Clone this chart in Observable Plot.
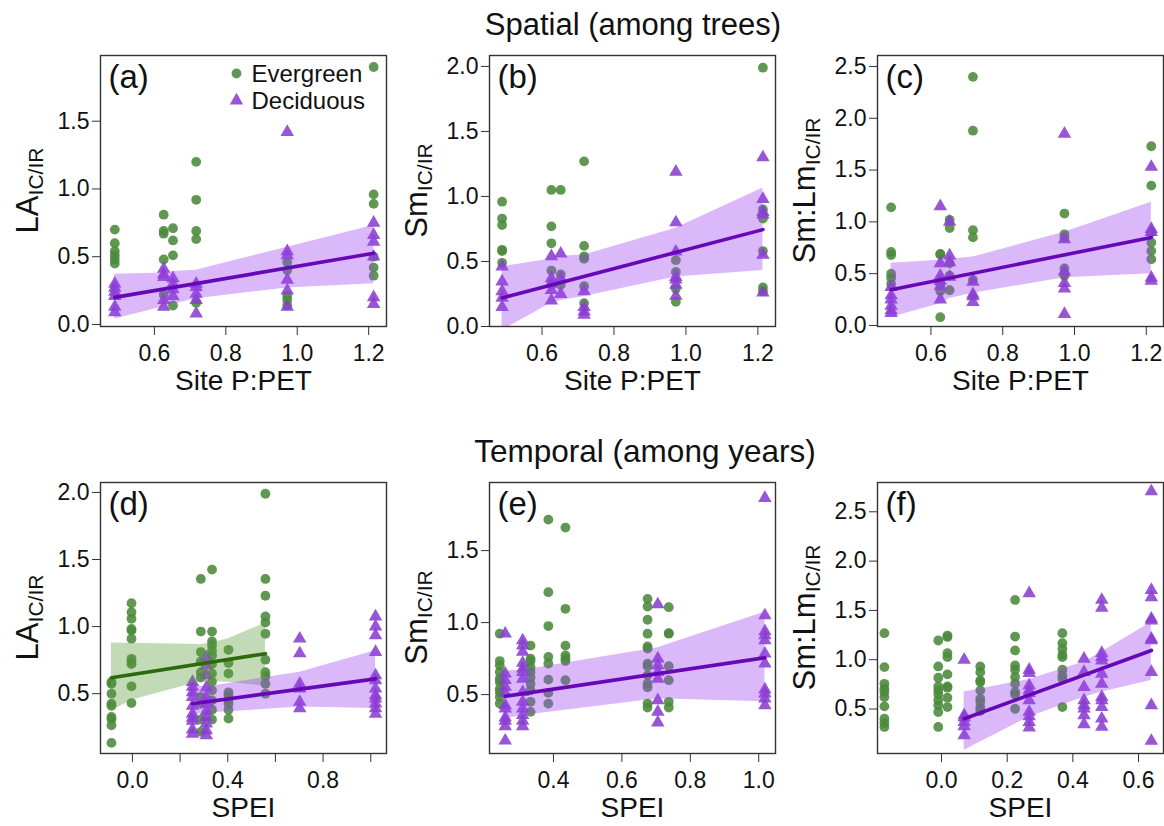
<!DOCTYPE html>
<html><head><meta charset="utf-8">
<script src="https://cdn.jsdelivr.net/npm/d3@7"></script>
<script src="https://cdn.jsdelivr.net/npm/@observablehq/plot@0.6"></script>
<style>
body{margin:0;background:#fff;overflow:hidden;font-family:"Liberation Sans",Arial,sans-serif;}
#root{position:relative;width:1164px;height:826px;}
.title{position:absolute;font-size:31px;color:#111;white-space:nowrap;transform:translateX(-50%);line-height:36px;}
.panel{position:absolute;}
</style></head><body><div id="root">
<div class="title" style="left:633px;top:7px">Spatial (among trees)</div>
<div class="title" style="left:645px;top:433px;font-size:31.5px">Temporal (among years)</div>
</div>
<script>
// ---------- shared ----------
const sitePET = [0.489, 0.626, 0.652, 0.717, 0.972, 1.214];
const siteLineX = [0.489, 1.214];
const topXTicks = [0.6, 0.8, 1.0, 1.2];
const legendLabels = ["Evergreen", "Deciduous"];
const subLabel = "IC/IR";

// ---------- (a) ----------
const aEverY = [
 [0.70,0.60,0.54,0.51,0.48,0.45],
 [0.81,0.69,0.67,0.48,0.22],
 [0.71,0.62,0.51,0.14],
 [1.20,0.92,0.69,0.63,0.16],
 [0.46,0.40,0.21,0.18,0.14],
 [1.90,0.96,0.89,0.50,0.42,0.36]];
const aDecidY = [
 [0.30,0.27,0.24,0.21,0.13,0.09],
 [0.41,0.37,0.35,0.18,0.13],
 [0.34,0.30,0.26,0.21],
 [0.30,0.275,0.225,0.18,0.08],
 [1.42,0.54,0.51,0.33,0.25,0.13],
 [0.75,0.66,0.61,0.50,0.20,0.15]];
const aBandLo = [0.04,0.13,0.15,0.19,0.27,0.30];
const aBandHi = [0.37,0.38,0.39,0.40,0.57,0.73];
const aLineY = [0.20, 0.525];
const aYTicks = [0, 0.5, 1.0, 1.5];

// ---------- (b) ----------
const bEverY = [
 [0.96,0.83,0.78,0.59,0.58,0.49],
 [1.05,0.77,0.64,0.43,0.32],
 [1.05,0.40,0.32],
 [1.27,0.62,0.54,0.52,0.31,0.18],
 [0.51,0.42,0.29,0.19],
 [1.99,0.90,0.83,0.58,0.30,0.27]];
const bDecidY = [
 [0.46,0.345,0.27,0.22,0.15],
 [0.54,0.37,0.33,0.28,0.20],
 [0.56,0.37,0.25],
 [0.27,0.15,0.115,0.09],
 [1.19,0.80,0.575,0.38,0.36,0.32,0.235],
 [1.30,0.98,0.88,0.86,0.55,0.26]];
const bBandLo = [-0.03,0.18,0.20,0.23,0.38,0.43];
const bBandHi = [0.46,0.52,0.54,0.55,0.755,1.065];
const bLineY = [0.22, 0.745];
const bYTicks = [0, 0.5, 1.0, 1.5, 2.0];

// ---------- (c) ----------
const cEverY = [
 [1.14,0.71,0.68,0.50,0.46,0.40],
 [0.69,0.685,0.39,0.33,0.08],
 [1.02,0.94,0.60,0.48,0.34],
 [2.40,1.88,0.92,0.85,0.44],
 [1.08,0.88,0.85,0.55,0.50,0.48],
 [1.73,1.35,0.90,0.80,0.72,0.64]];
const cDecidY = [
 [0.37,0.29,0.25,0.19,0.145,0.12],
 [1.15,0.60,0.48,0.43,0.38,0.25],
 [1.00,0.675,0.61,0.47],
 [0.42,0.30,0.28,0.225],
 [1.85,0.83,0.52,0.41,0.355,0.11],
 [1.53,0.93,0.90,0.46,0.43]];
const cBandLo = [0.08,0.21,0.26,0.31,0.46,0.50];
const cBandHi = [0.60,0.63,0.64,0.66,0.90,1.19];
const cLineY = [0.345, 0.85];
const cYTicks = [0, 0.5, 1.0, 1.5, 2.0, 2.5];

// ---------- (d) ----------
const dEverX = [-0.088,-0.004,0.287,0.334,0.403,0.558];
const dEverY = [
 [0.587,0.574,0.50,0.426,0.41,0.326,0.31,0.264,0.133],
 [1.174,1.107,1.058,0.983,0.97,0.91,0.76,0.74,0.72,0.555,0.43],
 [1.355,0.963,0.81,0.74,0.66,0.62,0.475,0.425,0.307,0.215],
 [1.425,0.963,0.89,0.86,0.82,0.785,0.72,0.65,0.59,0.525,0.45,0.38,0.307],
 [0.827,0.728,0.65,0.51,0.488,0.455,0.425,0.38,0.314],
 [1.99,1.355,1.23,1.075,1.03,0.946,0.753,0.66,0.63,0.574,0.50]];
const dDecidX = [0.252,0.31,0.702,1.02];
const dDecidY = [
 [0.587,0.55,0.51,0.475,0.41,0.35,0.32,0.297,0.232,0.20],
 [0.77,0.71,0.636,0.545,0.475,0.425,0.37,0.326,0.277,0.227,0.19],
 [0.91,0.80,0.574,0.537,0.438,0.39],
 [1.075,1.0,0.934,0.81,0.636,0.60,0.537,0.488,0.463,0.425,0.39,0.35]];
const dEverBandLo = [0.37,0.45,0.59,0.59,0.585,0.555];
const dEverBandHi = [0.877,0.875,0.867,0.88,0.91,1.026];
const dEverLineX = [-0.088, 0.558];
const dEverLineY = [0.619, 0.798];
const dDecidBandLo = [0.34,0.355,0.40,0.39];
const dDecidBandHi = [0.56,0.55,0.66,0.82];
const dDecidLineX = [0.252, 1.02];
const dDecidLineY = [0.425, 0.61];
const dXTicks = [0, 0.2, 0.4, 0.6, 0.8, 1.0];
const dXLabels = [0, 0.4, 0.8];
const dYTicks = [0.5, 1.0, 1.5, 2.0];

// ---------- (e) ----------
const eEverX = [0.243,0.333,0.385,0.435,0.675,0.737];
const eEverY = [
 [0.923,0.733,0.703,0.657,0.61,0.588,0.54,0.518,0.484,0.438],
 [0.84,0.75,0.733,0.69,0.657,0.618,0.576,0.53,0.45,0.38],
 [1.715,1.211,0.976,0.761,0.715,0.604,0.512,0.438],
 [1.66,1.096,0.84,0.772,0.75,0.733,0.60],
 [1.165,1.112,1.02,0.923,0.835,0.82,0.715,0.697,0.634,0.576,0.55,0.438,0.41],
 [1.107,0.927,0.923,0.697,0.60,0.45,0.41]];
const eDecidX = [0.259,0.31,0.705,1.018];
const eDecidY = [
 [0.923,0.645,0.60,0.553,0.512,0.426,0.403,0.34,0.318,0.28,0.18],
 [0.876,0.84,0.796,0.72,0.68,0.657,0.61,0.518,0.45,0.403,0.357,0.318,0.28],
 [1.126,0.75,0.703,0.657,0.61,0.46,0.38,0.306],
 [1.865,1.05,0.939,0.911,0.876,0.784,0.715,0.535,0.507,0.472,0.426]];
const eBandLo = [0.334,0.355,0.472,0.45];
const eBandHi = [0.664,0.67,0.826,1.073];
const eLineX = [0.259, 1.018];
const eLineY = [0.488, 0.756];
const eXTicks = [0.4, 0.6, 0.8, 1.0];
const eYTicks = [0.5, 1.0, 1.5];

// ---------- (f) ----------
const fEverX = [-0.174,-0.010,0.018,0.118,0.224,0.368];
const fEverY = [
 [1.269,0.925,0.756,0.706,0.672,0.621,0.527,0.402,0.358,0.318],
 [1.195,0.932,0.817,0.73,0.689,0.648,0.588,0.537,0.47,0.318],
 [1.245,1.229,1.067,1.026,0.851,0.73,0.716,0.615,0.52],
 [0.932,0.874,0.79,0.773,0.689,0.605,0.571,0.513,0.48],
 [1.606,1.235,1.094,0.942,0.898,0.824,0.756,0.672,0.648,0.503],
 [1.269,1.168,1.11,1.05,1.026,0.898,0.84,0.807,0.52]];
const fDecidX = [0.069,0.267,0.434,0.488,0.639];
const fDecidY = [
 [0.999,0.436,0.412,0.368,0.325,0.234],
 [1.674,0.898,0.864,0.739,0.689,0.662,0.588,0.47,0.426,0.368,0.311],
 [1.009,0.874,0.723,0.588,0.537,0.503,0.436,0.345],
 [1.606,1.525,1.067,1.026,0.992,0.857,0.756,0.621,0.588,0.52,0.402,0.318],
 [2.706,1.707,1.633,1.414,1.397,1.212,1.195,0.874,0.537,0.176]];
const fBandLo = [0.082,0.42,0.62,0.672,0.79];
const fBandHi = [0.672,0.80,0.976,1.077,1.38];
const fLineX = [0.069, 0.639];
const fLineY = [0.402, 1.094];
const fXTicks = [0, 0.2, 0.4, 0.6];
const fYTicks = [0.5, 1.0, 1.5, 2.0, 2.5];

// ---------- styles ----------
const GREEN = "#4a8a3b", PURPLE = "#8a3dd0";
const GREEN_LINE = "#2d6a0d", PURPLE_LINE = "#6608b8";
const GREEN_BAND = "#5e9e3e", PURPLE_BAND = "#9d45ee";

function toRows(xs, ys){ const r=[]; xs.forEach((x,i)=>ys[i].forEach(y=>r.push({x,y}))); return r; }
function bandRows(xs, lo, hi){ return xs.map((x,i)=>({x, lo:lo[i], hi:hi[i]})); }
function lineRows(xs, ys){ return xs.map((x,i)=>({x, y:ys[i]})); }
const f1 = d3.format(".1f");

function panel(p){
  const mL=100, mR=1, mT=5, mB=85, fw=286, fh=271;
  const marks = [
    Plot.dot(toRows(p.everX, p.everY), {x:"x", y:"y", r:4.9, fill:GREEN, fillOpacity:0.88, symbol:"circle"}),
    Plot.dot(toRows(p.decidX, p.decidY), {x:"x", y:"y", r:5.0, fill:PURPLE, fillOpacity:0.88, symbol:"triangle"})
  ];
  for (const b of p.bands) {
    marks.push(Plot.areaY(bandRows(b.x, b.lo, b.hi), {x:"x", y1:"lo", y2:"hi", fill:b.fill, fillOpacity:0.38, clip:true}));
  }
  for (const l of p.lines) {
    marks.push(Plot.line(lineRows(l.x, l.y), {x:"x", y:"y", stroke:l.stroke, strokeWidth:3.6, clip:true}));
  }
  marks.push(
    Plot.frame({stroke:"#333", strokeWidth:1.4}),
    Plot.axisX({ticks:p.xTicks, tickFormat:p.xFormat || f1, tickSize:9, tickPadding:9, fontSize:23, label:null, stroke:"#333"}),
    Plot.axisY({ticks:p.yTicks, tickFormat:f1, tickSize:8, tickPadding:3, fontSize:23, label:null, stroke:"#333"}),
    Plot.text([p.letter], {text:d=>d, frameAnchor:"top-left", dx:8, dy:9, fontSize:33, textAnchor:"start", fill:"#111"}),
    Plot.text([p.xTitle], {text:d=>d, frameAnchor:"bottom", dy:63, fontSize:28, fill:"#111"})
  );
  if (p.legend) {
    marks.push(
      Plot.dot([0], {frameAnchor:"top-left", dx:136, dy:18, r:4.9, fill:GREEN, fillOpacity:0.88, symbol:"circle"}),
      Plot.dot([0], {frameAnchor:"top-left", dx:136, dy:45, r:5.0, fill:PURPLE, fillOpacity:0.88, symbol:"triangle"}),
      Plot.text([legendLabels[0]], {text:d=>d, frameAnchor:"top-left", dx:151, dy:9, fontSize:24, textAnchor:"start", fill:"#111"}),
      Plot.text([legendLabels[1]], {text:d=>d, frameAnchor:"top-left", dx:151, dy:36, fontSize:24, textAnchor:"start", fill:"#111"})
    );
  }
  const svg = Plot.plot({
    width: mL+fw+mR, height: mT+fh+mB,
    marginLeft:mL, marginRight:mR, marginTop:mT, marginBottom:mB,
    x:{domain:p.xDomain}, y:{domain:p.yDomain},
    style:{fontFamily:'"Liberation Sans", Arial, sans-serif', color:"#111", background:"transparent", overflow:"visible"},
    marks
  });
  const t = d3.select(svg).append("text")
    .attr("transform", `translate(${mL-62},${mT+fh/2}) rotate(-90)`)
    .attr("text-anchor","middle").attr("font-size",31).attr("fill","#111");
  t.append("tspan").text(p.yMain);
  t.append("tspan").attr("font-size",21).attr("dy",5).text(subLabel);
  const div = document.createElement("div");
  div.className = "panel";
  div.style.left = (p.frameLeft - mL) + "px";
  div.style.top = (p.frameTop - mT) + "px";
  div.appendChild(svg);
  document.getElementById("root").appendChild(div);
}

const topCommon = {everX:sitePET, decidX:sitePET, xTicks:topXTicks, xTitle:"Site P:PET"};
panel({...topCommon, letter:"(a)", legend:true, yMain:"LA", everY:aEverY, decidY:aDecidY,
  bands:[{x:sitePET, lo:aBandLo, hi:aBandHi, fill:PURPLE_BAND}],
  lines:[{x:siteLineX, y:aLineY, stroke:PURPLE_LINE}],
  xDomain:[0.449,1.25], yDomain:[-0.015,1.985], yTicks:aYTicks, frameLeft:100, frameTop:55});
panel({...topCommon, letter:"(b)", yMain:"Sm", everY:bEverY, decidY:bDecidY,
  bands:[{x:sitePET, lo:bBandLo, hi:bBandHi, fill:PURPLE_BAND}],
  lines:[{x:siteLineX, y:bLineY, stroke:PURPLE_LINE}],
  xDomain:[0.454,1.249], yDomain:[0.0,2.084], yTicks:bYTicks, frameLeft:489, frameTop:55});
panel({...topCommon, letter:"(c)", yMain:"Sm:Lm", everY:cEverY, decidY:cDecidY,
  bands:[{x:sitePET, lo:cBandLo, hi:cBandHi, fill:PURPLE_BAND}],
  lines:[{x:siteLineX, y:cLineY, stroke:PURPLE_LINE}],
  xDomain:[0.451,1.248], yDomain:[-0.01,2.606], yTicks:cYTicks, frameLeft:877, frameTop:55});
panel({letter:"(d)", yMain:"LA", xTitle:"SPEI", everX:dEverX, everY:dEverY, decidX:dDecidX, decidY:dDecidY,
  bands:[{x:dEverX, lo:dEverBandLo, hi:dEverBandHi, fill:GREEN_BAND},{x:dDecidX, lo:dDecidBandLo, hi:dDecidBandHi, fill:PURPLE_BAND}],
  lines:[{x:dEverLineX, y:dEverLineY, stroke:GREEN_LINE},{x:dDecidLineX, y:dDecidLineY, stroke:PURPLE_LINE}],
  xTicks:dXTicks, xFormat:d => dXLabels.includes(d) ? f1(d) : "",
  xDomain:[-0.134,1.066], yDomain:[0.054,2.074], yTicks:dYTicks, frameLeft:100, frameTop:482});
panel({letter:"(e)", yMain:"Sm", xTitle:"SPEI", everX:eEverX, everY:eEverY, decidX:eDecidX, decidY:eDecidY,
  bands:[{x:eDecidX, lo:eBandLo, hi:eBandHi, fill:PURPLE_BAND}],
  lines:[{x:eLineX, y:eLineY, stroke:PURPLE_LINE}],
  xTicks:eXTicks, xDomain:[0.213,1.049], yDomain:[0.091,1.973], yTicks:eYTicks, frameLeft:489, frameTop:482});
panel({letter:"(f)", yMain:"Sm:Lm", xTitle:"SPEI", everX:fEverX, everY:fEverY, decidX:fDecidX, decidY:fDecidY,
  bands:[{x:fDecidX, lo:fBandLo, hi:fBandHi, fill:PURPLE_BAND}],
  lines:[{x:fLineX, y:fLineY, stroke:PURPLE_LINE}],
  xTicks:fXTicks, xDomain:[-0.195,0.676], yDomain:[0.049,2.797], yTicks:fYTicks, frameLeft:877, frameTop:482});
</script>
</body></html>
